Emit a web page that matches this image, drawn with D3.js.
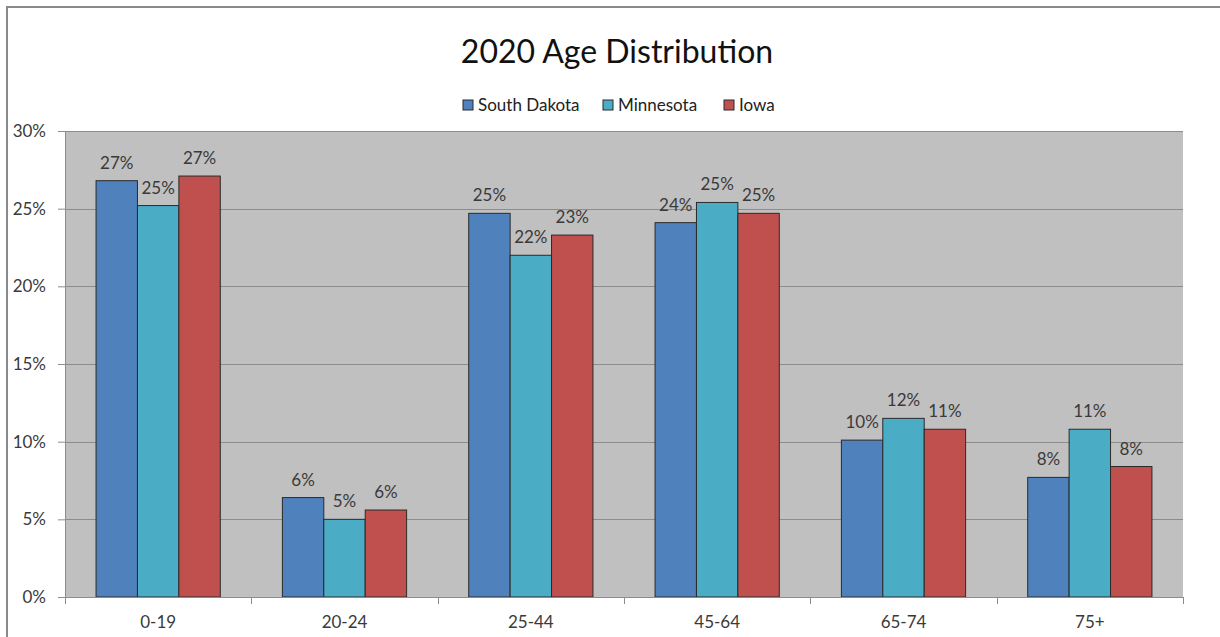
<!DOCTYPE html>
<html><head><meta charset="utf-8">
<script src="https://cdn.jsdelivr.net/npm/d3@7"></script>
<style>body{margin:0;background:#fff;}svg{display:block;font-family:Lato,"Open Sans",sans-serif;}</style>
</head><body>
<svg id="c" width="1220" height="637"></svg>
<script>
const categories = ["0-19","20-24","25-44","45-64","65-74","75+"];
const seriesNames = ["South Dakota","Minnesota","Iowa"];
const southDakota = [26.8, 6.4, 24.7, 24.1, 10.1, 7.7];
const minnesota   = [25.2, 5.0, 22.0, 25.4, 11.5, 10.8];
const iowa        = [27.1, 5.6, 23.3, 24.7, 10.8, 8.4];
const yTicks = [0,5,10,15,20,25,30];
const colors = ["#4f81bd","#4bacc6","#c0504d"];
const series = [southDakota, minnesota, iowa];

const svg = d3.select("#c");
const L = 65, R = 1183, T = 131, B = 597;

svg.append("rect").attr("x",7).attr("y",7).attr("width",1230).attr("height",660)
  .attr("fill","none").attr("stroke","#8a8a8a").attr("stroke-width",2);

const x = d3.scaleBand().domain(categories).range([L,R]).paddingInner(0).paddingOuter(0);
const gap = 1.5;
const bw = x.bandwidth()/(3+gap);
const y = d3.scaleLinear().domain([0,30]).range([B,T]);

svg.append("rect").attr("x",L).attr("y",T).attr("width",R-L).attr("height",B-T).attr("fill","#c0c0c0");

// gridlines
svg.append("g").selectAll("line").data(yTicks.filter(d=>d>0)).join("line")
  .attr("x1",L).attr("x2",R).attr("y1",d=>Math.round(y(d))+0.5).attr("y2",d=>Math.round(y(d))+0.5)
  .attr("stroke","#8c8c8c").attr("stroke-width",1);

// bars
series.forEach((vals,si)=>{
  svg.append("g").selectAll("rect").data(vals).join("rect")
    .attr("x",(d,i)=>x(categories[i]) + bw*gap/2 + si*bw)
    .attr("y",d=>y(d)).attr("width",bw).attr("height",d=>B-y(d))
    .attr("fill",colors[si]).attr("stroke","#2a2a2a").attr("stroke-width",1);
  svg.append("g").selectAll("text").data(vals).join("text")
    .attr("x",(d,i)=>x(categories[i]) + bw*gap/2 + si*bw + bw/2)
    .attr("y",d=>y(d)-12)
    .attr("text-anchor","middle").attr("font-size",17).attr("fill","#3a3a3a")
    .text(d=>Math.round(d)+"%");
});

// y axis
const ya = d3.axisLeft(y).tickValues(yTicks).tickSize(7).tickPadding(12).tickFormat(d=>d+"%");
const gy = svg.append("g").attr("transform",`translate(${L},0)`).call(ya);
gy.select(".domain").attr("stroke","#8c8c8c");
gy.selectAll(".tick line").attr("stroke","#8c8c8c");
gy.selectAll("text").attr("font-size",17).attr("fill","#3a3a3a").attr("font-family","Lato,sans-serif");

// x axis
const xa = d3.axisBottom(x).tickSize(0).tickPadding(19);
const gx = svg.append("g").attr("transform",`translate(0,${B})`).call(xa);
gx.select(".domain").attr("stroke","#8c8c8c");
gx.selectAll("text").attr("font-size",17).attr("fill","#3a3a3a").attr("font-family","Lato,sans-serif");
const bounds = categories.map(c=>x(c)).concat([R]);
gx.append("g").selectAll("line").data(bounds).join("line")
  .attr("x1",d=>Math.round(d)+0.5).attr("x2",d=>Math.round(d)+0.5).attr("y1",0).attr("y2",7)
  .attr("stroke","#8c8c8c");

// title
svg.append("text").attr("x",617).attr("y",63).attr("text-anchor","middle")
  .attr("font-size",32).attr("fill","#111").text("2020 Age Distribution");

// legend
const legX = [463, 603, 724];
const lg = svg.append("g");
seriesNames.forEach((n,i)=>{
  lg.append("rect").attr("x",legX[i]).attr("y",100).attr("width",10).attr("height",10)
    .attr("fill",colors[i]).attr("stroke","#2a2a2a").attr("stroke-width",1);
  lg.append("text").attr("x",legX[i]+15).attr("y",111).attr("font-size",17).attr("fill","#222").text(n);
});
</script>
</body></html>
